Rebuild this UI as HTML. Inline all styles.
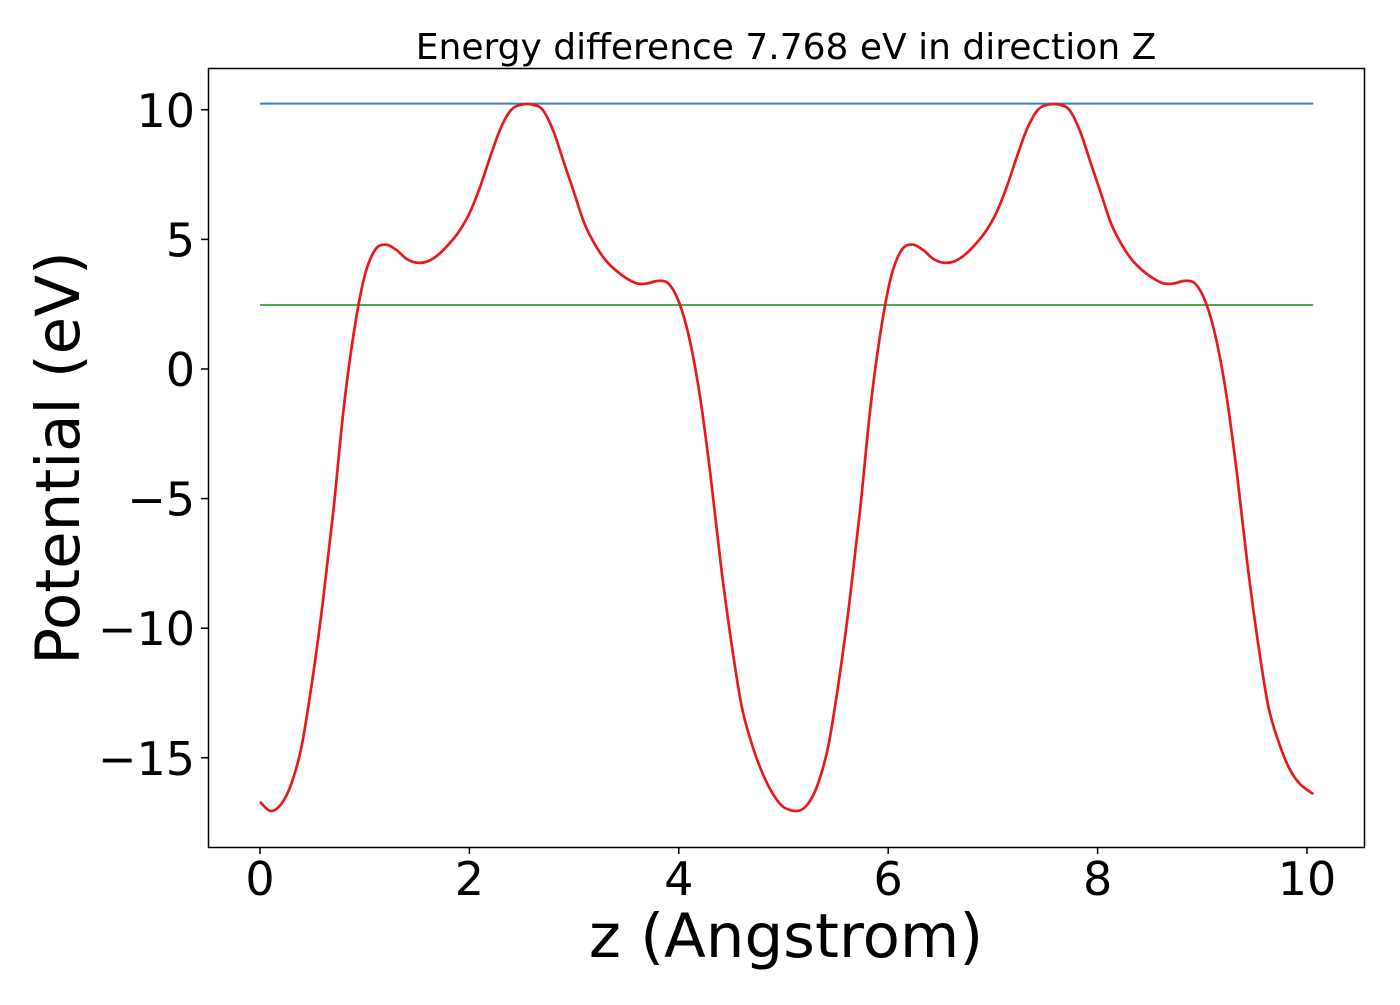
<!DOCTYPE html>
<html><head><meta charset="utf-8"><style>
body{margin:0;background:#fff;width:1400px;height:1000px;overflow:hidden}
svg text{font-family:"DejaVu Sans","Liberation Sans",sans-serif;fill:#000}
</style></head><body>
<svg id="chart" width="1400" height="1000" xmlns="http://www.w3.org/2000/svg">
<text x="786" y="59" font-size="36" text-anchor="middle">Energy difference 7.768 eV in direction Z</text>
<g id="plot"></g>
<rect x="208.5" y="68.5" width="1156" height="779" fill="none" stroke="#000" stroke-width="1.5"/>
<g id="xticks"></g>
<g id="yticks"></g>
<text x="786" y="957" font-size="61" text-anchor="middle">z (Angstrom)</text>
<text transform="translate(79,458) rotate(-90)" font-size="61" text-anchor="middle">Potential (eV)</text>
</svg>
<script>
const period1Z=[0,0.1,0.2,0.3,0.4,0.5,0.6,0.7,0.8,0.9,1.0,1.1,1.2,1.3,1.4,1.5,1.6,1.7,1.8,1.9,2.0,2.1,2.2,2.3,2.4,2.5,2.6,2.7,2.8,2.9,3.0,3.1,3.2,3.3,3.4,3.5,3.6,3.7,3.8,3.9,4.0,4.1,4.2,4.3,4.4,4.5,4.6,4.7,4.8,4.9,5.0];
const period1V=[-16.7,-17.05,-16.8,-16.0,-14.5,-12,-9,-5.5,-1.5,1.5,3.6,4.6,4.8,4.6,4.25,4.1,4.15,4.4,4.8,5.3,6.0,7.0,8.2,9.3,10.0,10.2,10.2,10.0,9.2,8.0,6.8,5.6,4.8,4.2,3.8,3.5,3.3,3.3,3.4,3.3,2.6,1.2,-1.0,-4,-7.5,-10.5,-13,-14.5,-15.6,-16.4,-16.9];
const period2Z=[5.13,5.23,5.33,5.43,5.53,5.63,5.73,5.83,5.93,6.03,6.13,6.23,6.33,6.43,6.53,6.63,6.73,6.83,6.93,7.03,7.13,7.23,7.33,7.43,7.53,7.63,7.73,7.83,7.93,8.03,8.13,8.23,8.33,8.43,8.53,8.63,8.73,8.83,8.93,9.03,9.13,9.23,9.33,9.43,9.53,9.63,9.73,9.83,9.93,10.06];
const period2V=[-17.05,-16.8,-16.0,-14.5,-12,-9,-5.5,-1.5,1.5,3.6,4.6,4.8,4.6,4.25,4.1,4.15,4.4,4.8,5.3,6.0,7.0,8.2,9.3,10.0,10.2,10.2,10.0,9.2,8.0,6.8,5.6,4.8,4.2,3.8,3.5,3.3,3.3,3.4,3.3,2.6,1.2,-1.0,-4,-7.5,-10.5,-13,-14.4,-15.4,-16.0,-16.4];
const hlineValues=[10.24,2.47];
const hlineColors=["#3a7fc4","#4aae4a"];
const xTickLabels=["0","2","4","6","8","10"];
const xTickValues=[0,2,4,6,8,10];
const yTickValues=[10,5,0,-5,-10,-15];
const yTickLabels=["10","5","0","\u22125","\u221210","\u221215"];
const lineStart=0, lineEnd=10.06;

const NS="http://www.w3.org/2000/svg";
function X(v){return 260+v*104.7;}
function Y(v){return 369-v*25.92;}
function mk(tag,attrs,parent){const e=document.createElementNS(NS,tag);for(const k in attrs)e.setAttribute(k,attrs[k]);parent.appendChild(e);return e;}
const plot=document.getElementById('plot');
hlineValues.forEach((v,i)=>{
  const l=mk('line',{x1:X(lineStart),x2:X(lineEnd),y1:Y(v),y2:Y(v),stroke:hlineColors[i],'stroke-width':2},plot);
  
  
});
const zs=period1Z.concat(period2Z), vs=period1V.concat(period2V);
const pts=zs.map((z,i)=>[X(z),Y(vs[i])]);
let d='M'+pts[0][0]+','+pts[0][1];
for(let i=0;i<pts.length-1;i++){
  const p0=pts[Math.max(0,i-1)],p1=pts[i],p2=pts[i+1],p3=pts[Math.min(pts.length-1,i+2)];
  const c1=[p1[0]+(p2[0]-p0[0])/6,p1[1]+(p2[1]-p0[1])/6];
  const c2=[p2[0]-(p3[0]-p1[0])/6,p2[1]-(p3[1]-p1[1])/6];
  d+=` C${c1[0]},${c1[1]} ${c2[0]},${c2[1]} ${p2[0]},${p2[1]}`;
}
const path=mk('path',{d:d,fill:'none',stroke:'#e8191c','stroke-width':2.7,'stroke-linejoin':'round'},plot);


const xg=document.getElementById('xticks');
xTickValues.forEach((v,i)=>{
  const t=mk('line',{x1:X(v),x2:X(v),y1:847,y2:854,stroke:'#000','stroke-width':1.5},xg);
  
  
  const tx=mk('text',{x:X(v),y:895,'font-size':46,'text-anchor':'middle'},xg);
  tx.textContent=xTickLabels[i];
  
  
});
const yg=document.getElementById('yticks');
yTickValues.forEach((v,i)=>{
  const t=mk('line',{x1:201,x2:208,y1:Y(v),y2:Y(v),stroke:'#000','stroke-width':1.5},yg);
  
  
  const tx=mk('text',{x:195,y:Y(v)+17,'font-size':46,'text-anchor':'end'},yg);
  tx.textContent=yTickLabels[i];
  
  
});
</script>
</body></html>
